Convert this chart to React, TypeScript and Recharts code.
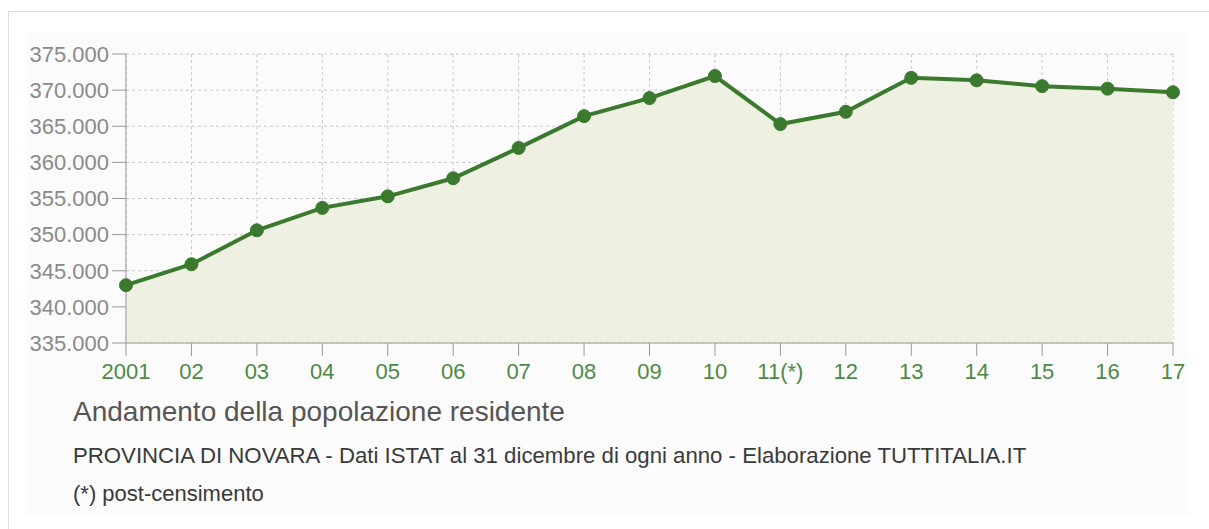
import { ComposedChart, Area, XAxis, YAxis, CartesianGrid } from 'recharts';

// Popolazione residente al 31 dicembre - Provincia di Novara
const years = ['2001', '02', '03', '04', '05', '06', '07', '08', '09', '10', '11(*)', '12', '13', '14', '15', '16', '17'];
const population = [343000, 345900, 350600, 353700, 355300, 357800, 362000, 366400, 368900, 371950, 365300, 367000, 371700, 371350, 370550, 370200, 369700];
const yTicks = [335000, 340000, 345000, 350000, 355000, 360000, 365000, 370000, 375000];

const data = years.map((year, i) => ({ year, pop: population[i] }));

const FONT = '"Liberation Sans", Arial, Helvetica, sans-serif';
const GREEN = '#3b7a2e';

const formatThousands = (v: number) => `${Math.floor(v / 1000)}.${String(v % 1000).padStart(3, '0')}`;

export default function App() {
  return (
    <div style={{ position: 'absolute', left: 0, top: 0, width: 1209, height: 529, background: '#fff', fontFamily: FONT }}>
      {/* outer frame */}
      <div style={{ position: 'absolute', left: 8, top: 11, width: 1201, height: 518, borderLeft: '1px solid #ddd', borderTop: '1px solid #ddd' }} />
      {/* inner panel */}
      <div style={{ position: 'absolute', left: 27, top: 32, width: 1161, height: 483, background: '#fbfbfb' }} />

      <div style={{ position: 'absolute', left: 0, top: 0 }}>
        <ComposedChart
          width={1209}
          height={400}
          data={data}
          margin={{ top: 54, right: 36, left: 0, bottom: 17 }}
        >
          <CartesianGrid stroke="#c8c8c8" strokeDasharray="3 3" vertical horizontal />
          <XAxis
            dataKey="year"
            height={40}
            interval={0}
            tickSize={13}
            tickMargin={7}
            stroke="#999"
            tick={{ fill: '#4d8a45', fontSize: 22, fontFamily: FONT }}
            tickLine={{ stroke: '#999' }}
          />
          <YAxis
            width={126}
            domain={[335000, 375000]}
            ticks={yTicks}
            interval={0}
            tickSize={14}
            tickMargin={3}
            stroke="#999"
            tickFormatter={formatThousands}
            tick={{ fill: '#8a8a8a', fontSize: 22, fontFamily: FONT }}
            tickLine={{ stroke: '#999' }}
          />
          <Area
            type="linear"
            dataKey="pop"
            stroke={GREEN}
            strokeWidth={4}
            fill="#eef0e1"
            fillOpacity={1}
            baseValue={335000}
            dot={{ r: 6.5, fill: GREEN, stroke: GREEN, strokeWidth: 1 }}
            isAnimationActive={false}
          />
        </ComposedChart>
      </div>

      <div style={{ position: 'absolute', left: 73, top: 396, fontSize: 28, color: '#555', whiteSpace: 'nowrap', lineHeight: '32px' }}>
        Andamento della popolazione residente
      </div>
      <div style={{ position: 'absolute', left: 73, top: 443, fontSize: 22.2, color: '#3a3a3a', whiteSpace: 'nowrap', lineHeight: '26px' }}>
        PROVINCIA DI NOVARA - Dati ISTAT al 31 dicembre di ogni anno - Elaborazione TUTTITALIA.IT
      </div>
      <div style={{ position: 'absolute', left: 73, top: 481, fontSize: 22, color: '#3a3a3a', whiteSpace: 'nowrap', lineHeight: '26px' }}>
        (*) post-censimento
      </div>
    </div>
  );
}
